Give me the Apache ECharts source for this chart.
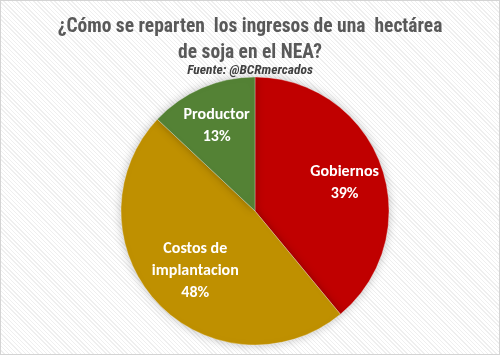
<!DOCTYPE html>
<html><head><meta charset="utf-8">
<script src="https://cdn.jsdelivr.net/npm/echarts@6/dist/echarts.min.js"></script>
<style>
html,body{margin:0;padding:0;}
#wrap{width:500px;height:355px;box-sizing:border-box;border:1px solid #d4d4d4;
background:#fff repeating-linear-gradient(45deg,#ffffff 0px,#ffffff 2px,#efefef 2px,#efefef 3px);}
#c{width:498px;height:353px;}
</style></head>
<body><div id="wrap"><div id="c"></div></div>
<script>
const categories = ['Gobiernos', 'Costos de\nimplantacion', 'Productor'];
const values = [39, 48, 13];
const colors = ['#C00000', '#BF9000', '#548235'];
const titleText = '¿Cómo se reparten  los ingresos de una  hectárea\nde soja en el NEA?';
const subtitleText = 'Fuente: @BCRmercados';

const chart = echarts.init(document.getElementById('c'), null, {renderer:'canvas'});
const cx = 254, cy = 210, R = 134;
const labelScale = [1.36, 1.17, 1.38];
const condensed = '"Roboto Condensed","Liberation Sans Narrow","Arial Narrow",sans-serif';
chart.setOption({
  backgroundColor: 'transparent',
  title: [{
    text: titleText, left: 'center', top: 8,
    textStyle: {fontFamily: condensed, fontSize: 19.5, fontWeight: 'bold', color: '#595959', lineHeight: 26}
  },{
    text: subtitleText, left: 'center', top: 58,
    textStyle: {fontFamily: condensed, fontSize: 13.5, fontWeight: 'bold', fontStyle: 'italic', color: '#404040'}
  }],
  series: [{
    type: 'pie', center: [cx, cy], radius: [0, R], startAngle: 90, clockwise: true,
    data: categories.map((c,i)=>({name:c, value:values[i], itemStyle:{color:colors[i]}})),
    itemStyle: {borderColor: 'rgba(255,255,255,0.5)', borderWidth: 0.6, shadowBlur: 10, shadowColor: 'rgba(0,0,0,0.25)'},
    label: {position: 'inside', formatter: '{b}\n{d}%', color: '#fff', fontFamily: 'Carlito, Calibri, "Open Sans", sans-serif', fontSize: 16, fontWeight: 'bold', lineHeight: 22},
    labelLayout: function(p){
      const r = p.labelRect;
      const lx = r.x + r.width/2, ly = r.y + r.height/2;
      const k = labelScale[p.dataIndex] - 1;
      return {dx: (lx-cx)*k, dy: (ly-cy)*k + 4};
    },
    labelLine: {show:false}, emphasis: {disabled: true}, silent: true, animation: false
  }]
});
</script></body></html>
